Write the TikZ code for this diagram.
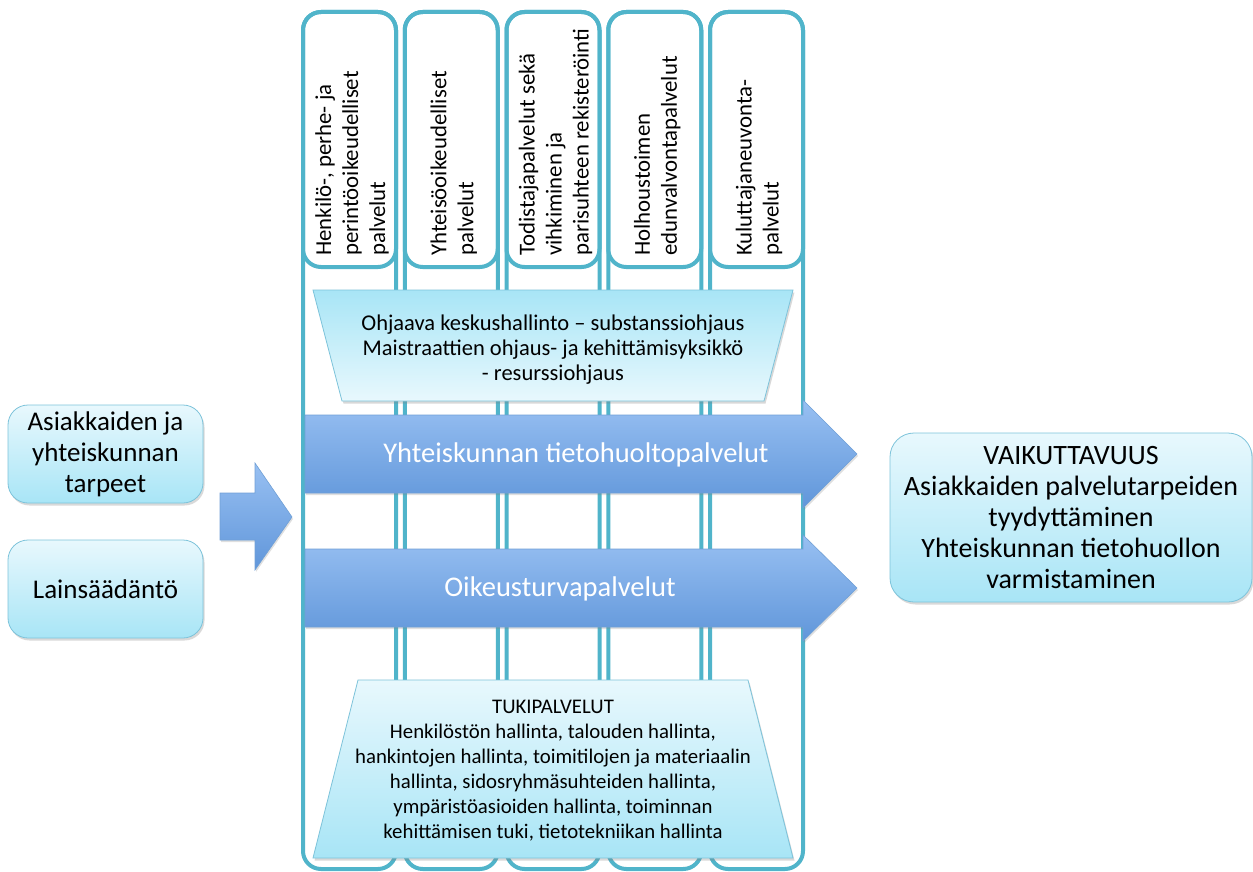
\documentclass[tikz,border=0pt]{standalone}
\usepackage{fontspec}
\setmainfont{Carlito}
\usetikzlibrary{shadows}
\definecolor{rim}{RGB}{80,180,202}
\definecolor{icepale}{RGB}{232,248,253}
\definecolor{icedeep}{RGB}{168,229,246}
\definecolor{bandtop}{RGB}{152,192,242}
\definecolor{bandlow}{RGB}{96,150,218}
\definecolor{bandrim}{RGB}{112,160,214}
\definecolor{boxrim}{RGB}{125,195,218}

\tikzset{
  icebox/.style={draw=boxrim, line width=0.8pt,
    drop shadow={opacity=0.3, shadow xshift=1.5pt, shadow yshift=-2.5pt}},
  sidebox/.style={icebox, rounded corners=20pt, top color=icepale, bottom color=icedeep,
    align=center, inner sep=0pt},
  band/.style={draw=bandrim, line width=0.6pt, top color=bandtop, bottom color=bandlow,
    drop shadow={opacity=0.25, shadow xshift=1pt, shadow yshift=-2pt}},
  coltext/.style={rotate=90, anchor=west, align=left, inner sep=0pt,
    font=\fontsize{22.8}{27}\selectfont},
  bandtext/.style={text=white, inner sep=0pt, font=\fontsize{28.5}{30}\selectfont},
}

\begin{document}
\begin{tikzpicture}[x=1pt, y=-1pt, font=\fontsize{27}{31}\selectfont]
\def\dx{101.75}
\useasboundingbox (0,0) rectangle (1253,872);

% ---- 1. service columns with headers ----
\foreach \i in {0,...,4}{
  \draw[rim, line width=4pt, fill=white, rounded corners=18pt]
    ({303+\i*\dx},12) rectangle ({396+\i*\dx},869);
  \draw[rim, line width=4pt, rounded corners=18pt]
    ({303+\i*\dx},12) rectangle ({396+\i*\dx},267);
}
\foreach \i/\txt in {0/{Henkilö-, perhe- ja\\perintöoikeudelliset\\palvelut},
                     1/{Yhteisöoikeudelliset\\palvelut},
                     2/{Todistajapalvelut sekä\\vihkiminen ja\\parisuhteen rekisteröinti},
                     3/{Holhoustoimen\\edunvalvontapalvelut},
                     4/{Kuluttajaneuvonta-\\palvelut}}{
  \node[coltext] (head\i) at ({352+\i*\dx},256) {\txt};
}

% ---- 2. steering (top trapezoid) ----
\path[icebox, top color=icedeep, bottom color=icepale]
  (313,290) -- (793,290) -- (764,401) -- (342,401) -- cycle;
\node[align=center, inner sep=0pt, font=\fontsize{22.5}{25}\selectfont] (ohjaus) at (553,350)
  {Ohjaava keskushallinto – substanssiohjaus\\Maistraattien ohjaus- ja kehittämisyksikkö\\- resurssiohjaus};

% ---- 3. service bands ----
\path[band] (305,415) -- (803,415) -- (803,400) -- (857,454) -- (803,508) -- (803,493) -- (305,493) -- cycle;
\node[bandtext] (tieto) at (576,455) {Yhteiskunnan tietohuoltopalvelut};
\path[band] (305,549) -- (803,549) -- (803,535) -- (857,588) -- (803,641) -- (803,627) -- (305,627) -- cycle;
\node[bandtext] (turva) at (560,589) {Oikeusturvapalvelut};

% ---- 4. support (bottom trapezoid) ----
\path[icebox, top color=icepale, bottom color=icedeep]
  (358,680) -- (748,680) -- (793,858) -- (313,858) -- cycle;
\node[align=center, inner sep=0pt, font=\fontsize{20.8}{25}\selectfont] (tuki) at (553,771)
  {TUKIPALVELUT\\Henkilöstön hallinta, talouden hallinta,\\hankintojen hallinta, toimitilojen ja materiaalin\\hallinta, sidosryhmäsuhteiden hallinta,\\ympäristöasioiden hallinta, toiminnan\\kehittämisen tuki, tietotekniikan hallinta};

% ---- 5. inputs ----
\node[sidebox, minimum width=195pt, minimum height=98pt] (tarpeet) at (105.5,454)
  {Asiakkaiden ja\\yhteiskunnan\\tarpeet};
\node[sidebox, minimum width=195pt, minimum height=98pt] (laki) at (105.5,589)
  {Lainsäädäntö};
\path[band] (220,493) -- (255,493) -- (255,463) -- (292,517) -- (255,570) -- (255,540) -- (220,540) -- cycle;

% ---- 6. outcome ----
\node[sidebox, rounded corners=24pt, minimum width=362pt, minimum height=169pt,
  font=\fontsize{28}{31}\selectfont] (vaik) at (1071,517.5)
  {VAIKUTTAVUUS\\Asiakkaiden palvelutarpeiden\\tyydyttäminen\\Yhteiskunnan tietohuollon\\varmistaminen};
\end{tikzpicture}
\end{document}
